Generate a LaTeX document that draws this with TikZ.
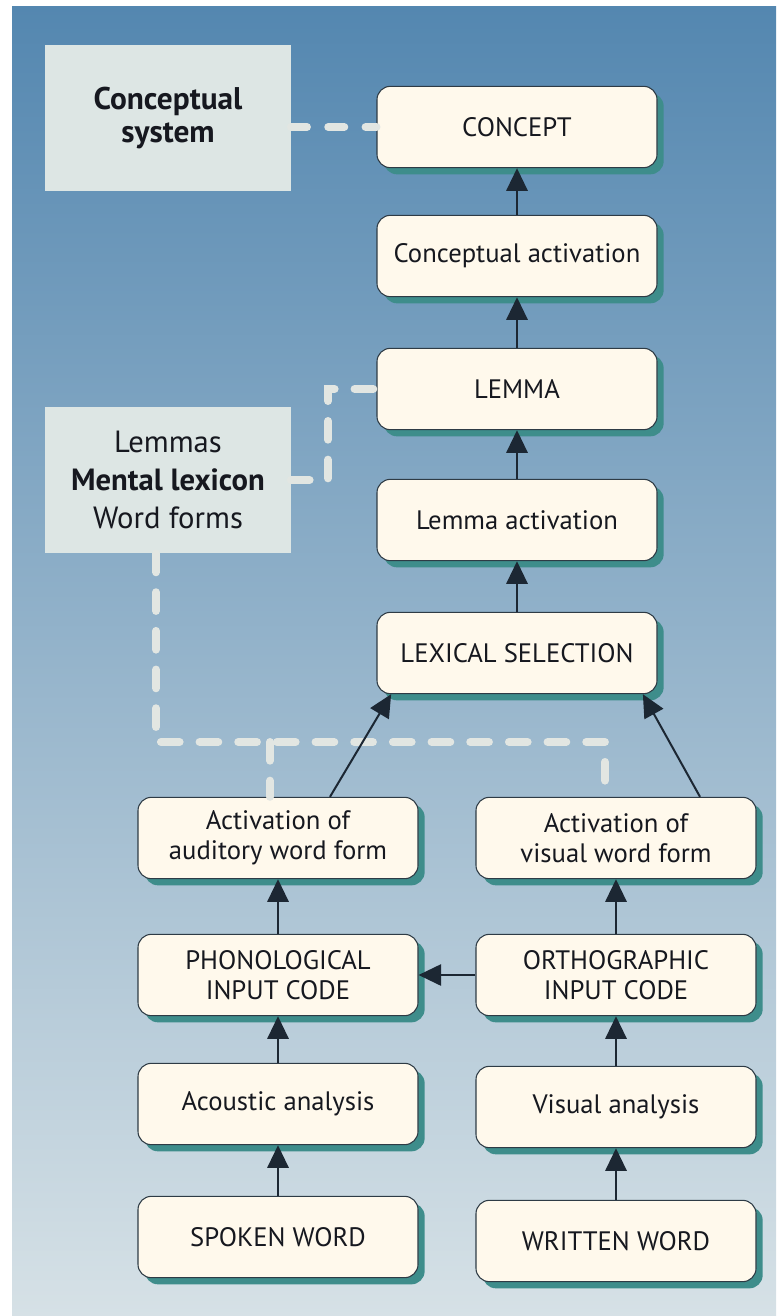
\documentclass[tikz,border=0pt]{standalone}
\usepackage{fontspec}
\setmainfont{PT Sans}
\usetikzlibrary{arrows.meta, shadows}

\definecolor{boxfill}{HTML}{FFF9EC}
\definecolor{boxline}{HTML}{2E3B45}
\definecolor{shadowteal}{HTML}{3E8D8B}
\definecolor{storefill}{HTML}{DDE6E4}
\definecolor{arrowdark}{HTML}{1C2733}
\definecolor{dashgray}{HTML}{E2E6E2}
\definecolor{textdark}{HTML}{16181F}
\definecolor{bgtop}{HTML}{5487B0}
\definecolor{bgmid}{HTML}{90B2C9}
\definecolor{bgbottom}{HTML}{D6E1E6}

\begin{document}
\begin{tikzpicture}[x=0.75pt, y=-0.75pt,
  stage/.style={draw=boxline, line width=0.8pt, fill=boxfill, rounded corners=10pt,
    minimum width=210pt, minimum height=61pt, align=center, text=textdark,
    font=\fontsize{20}{22.5}\selectfont,
    drop shadow={shadow xshift=5pt, shadow yshift=-5pt, fill=shadowteal, opacity=1}},
  store/.style={fill=storefill, minimum width=184pt, minimum height=110pt,
    align=center, text=textdark, font=\fontsize{23}{28.5}\selectfont},
  flow/.style={-{Triangle[width=16pt,length=17pt]}, line width=1.5pt, draw=arrowdark},
  link/.style={draw=dashgray, line width=6pt, line cap=round, dash pattern=on 14pt off 15pt}]

% Background
\useasboundingbox (0,0) rectangle (776,1316);
\fill[white] (0,0) rectangle (776,1316);
\shade[top color=bgtop, middle color=bgmid, bottom color=bgbottom] (12,7) rectangle (776,1316);

% Stores
\node[store, font=\fontsize{23.5}{24.75}\selectfont] (concsys) at (168,118) {\textbf{Conceptual}\\\textbf{system}};
\node[store] (lexicon) at (168,480) {Lemmas\\\textbf{Mental lexicon}\\Word forms};

% Central column
\node[stage] (concept) at (517,127) {CONCEPT};
\node[stage] (concact) at (517,256) {Conceptual activation};
\node[stage] (lemma) at (517,389) {LEMMA};
\node[stage] (lemact) at (517,520) {Lemma activation};
\node[stage] (lexsel) at (517,653) {LEXICAL SELECTION};

% Spoken input
\node[stage] (audact) at (278,838) {Activation of\\auditory word form};
\node[stage] (phon) at (278,975) {PHONOLOGICAL\\INPUT CODE};
\node[stage] (acou) at (278,1104) {Acoustic analysis};
\node[stage] (spoken) at (278,1237) {SPOKEN WORD};

% Written input
\node[stage] (visact) at (616,838) {Activation of\\visual word form};
\node[stage] (orth) at (616,975) {ORTHOGRAPHIC\\INPUT CODE};
\node[stage] (visan) at (616,1107) {Visual analysis};
\node[stage] (written) at (616,1241) {WRITTEN WORD};

% Links to the stores
\coordinate (busL) at (270,742);
\coordinate (busR) at (605,742);
\draw[link, dash pattern=on 12pt off 16pt] (concept.west -| concsys.east) -- (concept.west);
\draw[link] (lexicon.east) -- ++(37,0) |- (lemma.west);
\draw[link] ([xshift=-9pt]lexicon.south) |- (busR) -- (busR |- visact.north);
\draw[link] (busL) -- (busL |- audact.north);

% Processing arrows
\foreach \a/\b in {concact/concept, lemma/concact, lemact/lemma, lexsel/lemact,
  spoken/acou, acou/phon, phon/audact, written/visan, visan/orth, orth/visact}
  \draw[flow] (\a) -- (\b);
\draw[flow] (orth) -- (phon);
\draw[flow] ([xshift=39pt]audact.north) -- ([xshift=11pt]lexsel.south west);
\draw[flow] ([xshift=63pt]visact.north) -- ([xshift=-11pt]lexsel.south east);

\end{tikzpicture}
\end{document}
